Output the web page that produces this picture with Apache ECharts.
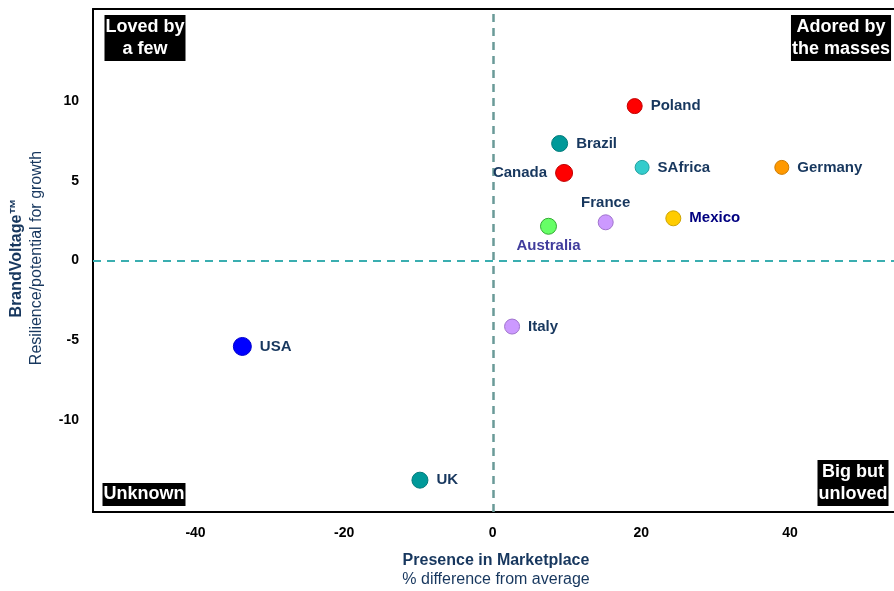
<!DOCTYPE html>
<html><head><meta charset="utf-8">
<script src="https://cdn.jsdelivr.net/npm/echarts@6/dist/echarts.min.js"></script>
<style>html,body{margin:0;padding:0;background:#fff}#c{width:894px;height:591px}</style>
</head><body><div id="c"></div>
<script>
const countries = ['Poland','Brazil','Canada','SAfrica','Germany','France','Mexico','Australia','Italy','USA','UK'];
const presence  = [19.1, 9.0, 9.6, 20.1, 38.9, 15.2, 24.3, 7.5, 2.6, -33.7, -9.8];
const voltage   = [9.7, 7.35, 5.5, 5.85, 5.85, 2.4, 2.65, 2.15, -4.15, -5.4, -13.8];
const xTicks = [-40, -20, 0, 20, 40];
const yTicks = [-10, -5, 0, 5, 10];
const quadrantLabels = ['Loved by\na few', 'Adored by\nthe masses', 'Unknown', 'Big but\nunloved'];

const styleMap = {
  Poland:   {c:'#ff0000', b:'#c00000', s:15, pos:'right', lc:'#17375e'},
  Brazil:   {c:'#009999', b:'#007a7a', s:16, pos:'right', lc:'#17375e'},
  Canada:   {c:'#ff0000', b:'#c00000', s:17, pos:'left',  lc:'#17375e'},
  SAfrica:  {c:'#33cccc', b:'#22a0a0', s:14, pos:'right', lc:'#17375e'},
  Germany:  {c:'#ff9900', b:'#cc7a00', s:14, pos:'right', lc:'#17375e'},
  France:   {c:'#cc99ff', b:'#9f73cc', s:15, pos:'top',   lc:'#17375e'},
  Mexico:   {c:'#ffcc00', b:'#cca300', s:15, pos:'right', lc:'#000080'},
  Australia:{c:'#66ff66', b:'#33aa33', s:16, pos:'bottom',lc:'#403c9c'},
  Italy:    {c:'#cc99ff', b:'#9f73cc', s:15, pos:'right', lc:'#17375e'},
  USA:      {c:'#0000ff', b:'#0000cc', s:18, pos:'right', lc:'#17375e'},
  UK:       {c:'#009999', b:'#007a7a', s:16, pos:'right', lc:'#17375e'}
};

const data = countries.map((n,i)=>{
  const st = styleMap[n];
  return {
    name: n, value: [presence[i], voltage[i]],
    symbolSize: st.s,
    itemStyle: {color: st.c, borderColor: st.b, borderWidth: 1, opacity: 1},
    label: {show: true, formatter: n, position: st.pos, color: st.lc, distance: st.pos==='top'||st.pos==='bottom'?4:8}
  };
});

const FF = 'Liberation Sans, Arial, sans-serif';
const chart = echarts.init(document.getElementById('c'));
const quadStyle = {fill:'#fff', fontFamily:FF, fontWeight:'bold', fontSize:18, lineHeight:22, backgroundColor:'#000', align:'center', verticalAlign:'top', padding:[1,1,1,1]};
const tickLabel = {margin: 14, color: '#000', fontWeight: 'bold', fontSize: 14, fontFamily: FF};
chart.setOption({
  animation: false,
  grid: {left: 93, top: 9, right: 0, bottom: 79},
  xAxis: [{
    type: 'value', min: -53.8, max: 54.0, position: 'bottom',
    splitLine: {show: false},
    axisLine: {show: true, onZero: false, lineStyle: {color: '#000', width: 2}},
    axisTick: {show: false},
    axisLabel: Object.assign({customValues: xTicks}, tickLabel)
  }, {
    type: 'value', min: -53.8, max: 54.0, position: 'top',
    splitLine: {show: false},
    axisLine: {show: true, onZero: false, lineStyle: {color: '#000', width: 2}},
    axisTick: {show: false},
    axisLabel: {show: false}
  }],
  yAxis: {
    type: 'value', min: -15.8, max: 15.8,
    splitLine: {show: false},
    axisLine: {show: true, onZero: false, lineStyle: {color: '#000', width: 2}},
    axisTick: {show: false},
    axisLabel: Object.assign({customValues: yTicks}, tickLabel)
  },
  series: [{
    type: 'scatter',
    data: data,
    itemStyle: {opacity: 1},
    label: {fontWeight: 'bold', fontSize: 15, fontFamily: FF, opacity: 1},
    emphasis: {disabled: true},
    markLine: {
      silent: true, symbol: 'none', label: {show: false},
      data: [
        {xAxis: 0, lineStyle: {color: '#6a9a98', type: [8,6], width: 2.5, opacity: 1}},
        {yAxis: 0, lineStyle: {color: '#3aaeb0', type: [8,6], width: 2, opacity: 1}}
      ]
    },
    z: 5
  }],
  graphic: [
    {type:'text', x: 145, y: 15, style: Object.assign({}, quadStyle, {text: quadrantLabels[0]})},
    {type:'text', x: 841, y: 15, style: Object.assign({}, quadStyle, {text: quadrantLabels[1]})},
    {type:'text', x: 144, y: 483, style: Object.assign({}, quadStyle, {text: quadrantLabels[2], lineHeight: 21})},
    {type:'text', x: 853, y: 460, style: Object.assign({}, quadStyle, {text: quadrantLabels[3]})},
    {type:'text', x: 496, y: 561, style: {text: 'Presence in Marketplace', fill:'#17375e', fontWeight:'bold', fontSize:16, fontFamily:FF, align:'center', verticalAlign:'middle'}},
    {type:'text', x: 496, y: 580, style: {text: '% difference from average', fill:'#17375e', fontSize:16, fontFamily:FF, align:'center', verticalAlign:'middle'}},
    {type:'text', x: 17, y: 258, rotation: Math.PI/2, style: {text: 'BrandVoltage™', fill:'#17375e', fontWeight:'bold', fontSize:16, fontFamily:FF, align:'center', verticalAlign:'middle'}},
    {type:'text', x: 37, y: 258, rotation: Math.PI/2, style: {text: 'Resilience/potential for growth', fill:'#17375e', fontSize:16, fontFamily:FF, align:'center', verticalAlign:'middle'}}
  ]
});
</script></body></html>
